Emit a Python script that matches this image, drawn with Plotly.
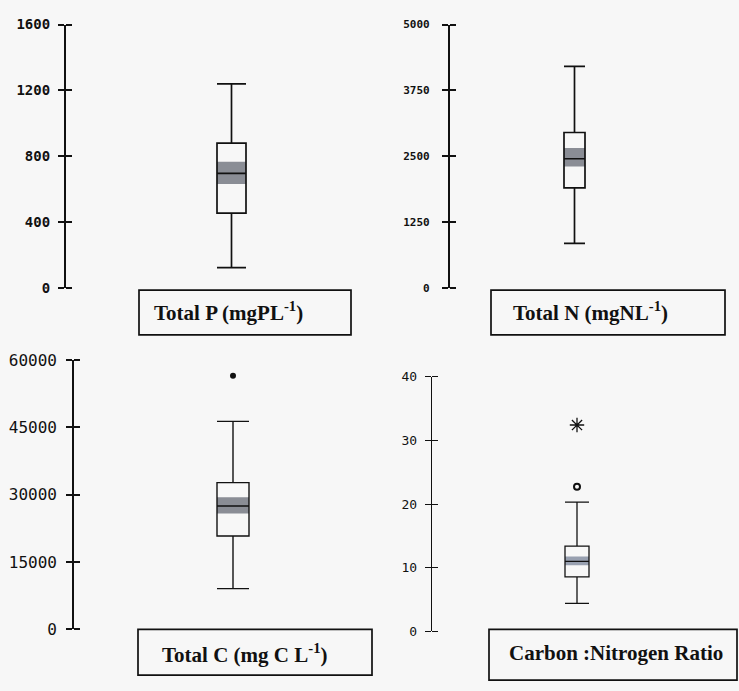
import plotly.graph_objects as go

# Summary statistics for each variable
variables = ["Total P", "Total N", "Total C", "C:N"]
whisker_low = [124, 849, 9100, 4.4]
q1 = [455, 1900, 20800, 8.55]
median = [697, 2454, 27500, 11.0]
q3 = [880, 2952, 32700, 13.4]
whisker_high = [1240, 4207, 46350, 20.3]
ci_low = [632, 2306, 25800, 10.4]
ci_high = [767, 2657, 29450, 11.75]

# Outliers (Total C: mild dot; C:N: mild circle and extreme star)
c_outliers = [56500]
cn_mild = [22.7]
cn_extreme = [32.4]

axis_max = [1600, 5000, 60000, 40]
tick_vals = [
    [0, 400, 800, 1200, 1600],
    [0, 1250, 2500, 3750, 5000],
    [0, 15000, 30000, 45000, 60000],
    [0, 10, 20, 30, 40],
]
labels = [
    "Total P (mgPL<sup>-1</sup>)",
    "Total N (mgNL<sup>-1</sup>)",
    "Total C (mg C L<sup>-1</sup>)",
    "Carbon :Nitrogen Ratio",
]

W, H = 739, 691
BG = "#f7f7f7"
PANEL_W = 280

# layout per panel: axis x, top/bottom pixel of y axis, box centre, box width, line widths, tick font
panels = [
    dict(ax=66, top=16, bot=287, bc=231.5, bw=29, lw=2.2, blw=1.7, fs=14, fw="bold", so=5, band="#8a8d95"),
    dict(ax=450, top=16, bot=287, bc=574.5, bw=21, lw=2.2, blw=1.7, fs=11, fw="bold", so=10, band="#8a8d95"),
    dict(ax=74, top=361, bot=638, bc=233, bw=32, lw=1.6, blw=1.4, fs=16, fw="normal", so=6, band="#8a8d95"),
    dict(ax=432, top=378, bot=640, bc=577, bw=24, lw=1.4, blw=1.3, fs=13, fw="normal", so=5, band="#98a0b0"),
]
label_boxes = [
    dict(x0=139, x1=351, y0=289, y1=335, tx=152, ty=311),
    dict(x0=491, x1=725, y0=289, y1=335, tx=511, ty=311),
    dict(x0=138, x1=372, y0=638, y1=685, tx=160, ty=663),
    dict(x0=489, x1=737, y0=638, y1=690, tx=507, ty=662),
]

fig = go.Figure()
layout = dict(
    width=W, height=H,
    margin=dict(l=0, r=0, t=0, b=0),
    paper_bgcolor=BG, plot_bgcolor=BG,
    showlegend=False,
)
shapes = []
annotations = []

for i, p in enumerate(panels):
    n = i + 1
    xa = "x" if n == 1 else f"x{n}"
    ya = "y" if n == 1 else f"y{n}"
    xdom = [p["ax"] / W, (p["ax"] + PANEL_W) / W]
    ydom = [1 - p["bot"] / H, 1 - p["top"] / H]
    pos = p["bc"] - p["ax"]

    fig.add_trace(go.Box(
        x=[pos], q1=[q1[i]], median=[median[i]], q3=[q3[i]],
        lowerfence=[whisker_low[i]], upperfence=[whisker_high[i]],
        width=p["bw"], whiskerwidth=1,
        fillcolor="rgba(0,0,0,0)",
        line=dict(color="#111111", width=p["blw"]),
        xaxis=xa, yaxis=ya, hoverinfo="skip",
    ))

    # confidence band around the median
    shapes.append(dict(
        type="rect", xref=xa, yref=ya, layer="below",
        x0=pos - p["bw"] / 2, x1=pos + p["bw"] / 2,
        y0=ci_low[i], y1=ci_high[i],
        fillcolor=p["band"], line=dict(width=0),
    ))

    layout[f"xaxis{'' if n == 1 else n}"] = dict(
        domain=xdom, range=[0, PANEL_W], visible=False, anchor=ya,
    )
    layout[f"yaxis{'' if n == 1 else n}"] = dict(
        domain=ydom, range=[0, axis_max[i]], anchor=xa,
        showline=True, linecolor="#111111", linewidth=p["lw"],
        showgrid=False, zeroline=False,
        ticks="outside", ticklen=6, tickwidth=p["lw"], tickcolor="#111111",
        tickvals=tick_vals[i], ticktext=[str(v) for v in tick_vals[i]],
        ticklabelstandoff=p["so"],
        tickfont=dict(family="DejaVu Sans Mono", size=p["fs"], weight=p["fw"], color="#111111"),
        # inward half of each tick so the marks cross the axis line
        minor=dict(
            ticks="inside", ticklen=6, tickwidth=p["lw"], tickcolor="#111111",
            tickvals=tick_vals[i], showgrid=False,
        ),
    )

    lb = label_boxes[i]
    shapes.append(dict(
        type="rect", xref="paper", yref="paper",
        x0=lb["x0"] / W, x1=lb["x1"] / W,
        y0=1 - lb["y1"] / H, y1=1 - lb["y0"] / H,
        line=dict(color="#111111", width=1.7), fillcolor="rgba(0,0,0,0)",
    ))
    annotations.append(dict(
        xref="paper", yref="paper", x=lb["tx"] / W, y=1 - lb["ty"] / H,
        xanchor="left", yanchor="middle", showarrow=False,
        text=f"<b>{labels[i]}</b>",
        font=dict(family="Liberation Serif", size=21, color="#111111"),
    ))

# outlier markers
fig.add_trace(go.Scatter(
    x=[panels[2]["bc"] - panels[2]["ax"]] * len(c_outliers), y=c_outliers,
    mode="markers", marker=dict(symbol="circle", size=6, color="#111111"),
    xaxis="x3", yaxis="y3", hoverinfo="skip",
))
fig.add_trace(go.Scatter(
    x=[panels[3]["bc"] - panels[3]["ax"]] * len(cn_mild), y=cn_mild,
    mode="markers",
    marker=dict(symbol="circle-open", size=6, color="#111111", line=dict(width=2)),
    xaxis="x4", yaxis="y4", hoverinfo="skip",
))
fig.add_trace(go.Scatter(
    x=[panels[3]["bc"] - panels[3]["ax"]] * len(cn_extreme), y=cn_extreme,
    mode="markers",
    marker=dict(symbol="asterisk-open", size=12, color="#111111", line=dict(width=1.3, color="#111111")),
    xaxis="x4", yaxis="y4", hoverinfo="skip",
))

layout["shapes"] = shapes
layout["annotations"] = annotations
fig.update_layout(**layout)
fig.write_html("out.html")
